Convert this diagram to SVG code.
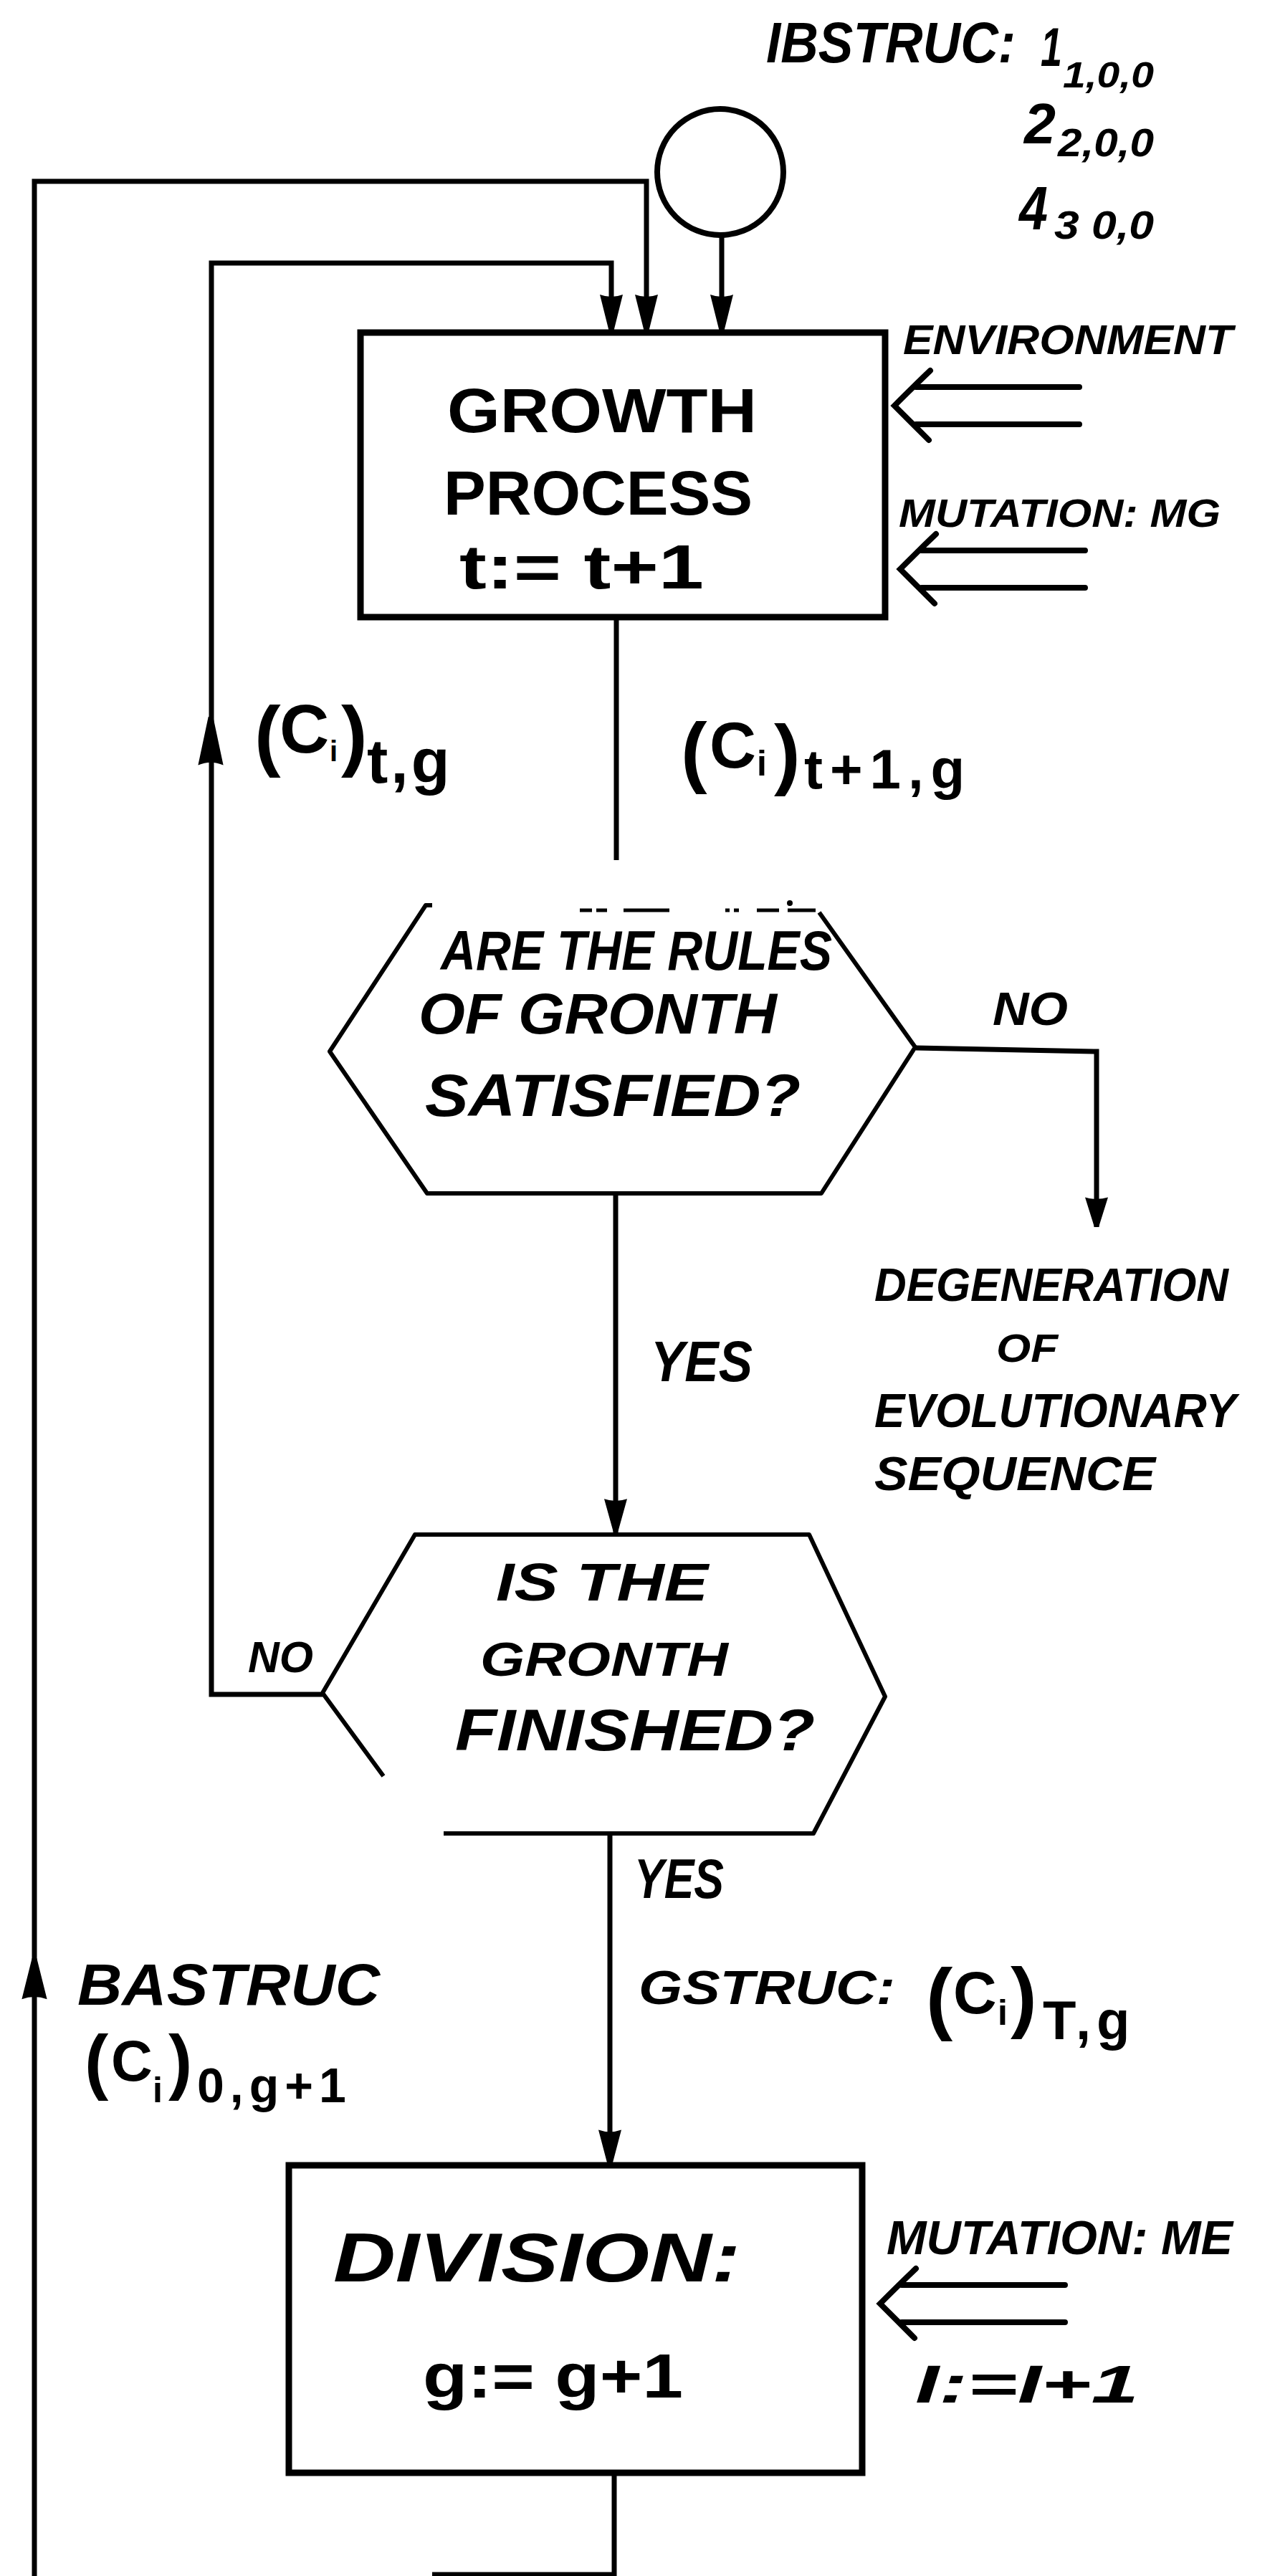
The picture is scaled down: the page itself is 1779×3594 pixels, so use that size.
<svg xmlns="http://www.w3.org/2000/svg" width="1779" height="3594" viewBox="0 0 1779 3594">
<style>
.ln{fill:none;stroke:#000;stroke-width:7;stroke-linejoin:miter}
.bx{fill:none;stroke:#000;stroke-width:9}
.hx{fill:none;stroke:#000;stroke-width:6;stroke-linejoin:round}
.t{font-family:'Liberation Sans',Arial,sans-serif;font-weight:bold;fill:#000}
.i{font-style:italic}
</style>
<defs>
<path id="ah" d="M-16,-52 Q0,-46 16,-52 L3,0 L-3,0 Z" fill="#000"/>
<g id="dbl" fill="none" stroke="#000" stroke-width="8" stroke-linecap="round">
<path d="M30,-26 H258 M30,26 H258"/>
<path d="M50,-49 C30,-30 12,-12 0,0 C12,12 30,30 48,48"/>
</g>
</defs>
<rect width="1779" height="3594" fill="#fff"/>

<g id="connectors">
<path class="ln" d="M48,3594 V253 H902 V463"/>
<path class="ln" d="M450,2364 H295 V367 H853 V463"/>
<path class="ln" d="M1007,330 V463"/>
<path class="ln" d="M860,861 V1200"/>
<path class="ln" d="M859,1665 V2138"/>
<path class="ln" d="M1278,1462 L1530,1467 V1712"/>
<path class="ln" d="M851,2558 V3021"/>
<path class="ln" d="M857,3450 V3592 H603"/>
<use href="#ah" transform="translate(853,463)"/>
<use href="#ah" transform="translate(902,463)"/>
<use href="#ah" transform="translate(1007,463)"/>
<use href="#ah" transform="translate(294,1000) rotate(180) scale(1.1,1.3)"/>
<use href="#ah" transform="translate(48,2732) rotate(180) scale(1.1,1.1)"/>
<use href="#ah" transform="translate(1530,1712) scale(1,0.8)"/>
<use href="#ah" transform="translate(859,2138) scale(1,0.9)"/>
<use href="#ah" transform="translate(851,3021) scale(1,0.95)"/>
<use href="#dbl" x="1248" y="566"/>
<use href="#dbl" x="1256" y="794"/>
<use href="#dbl" x="1228" y="3214"/>
</g>

<g id="ibstruc">
<text class="t i" x="1069" y="87" font-size="80" textLength="348" lengthAdjust="spacingAndGlyphs">IBSTRUC:</text>
<text class="t i" x="1452" y="92" font-size="76" textLength="30" lengthAdjust="spacingAndGlyphs">1</text>
<text class="t i" x="1483" y="122" font-size="50" textLength="127" lengthAdjust="spacingAndGlyphs">1,0,0</text>
<text class="t i" x="1429" y="200" font-size="80" textLength="44" lengthAdjust="spacingAndGlyphs">2</text>
<text class="t i" x="1476" y="218" font-size="55" textLength="134" lengthAdjust="spacingAndGlyphs">2,0,0</text>
<text class="t i" x="1422" y="320" font-size="86" textLength="40" lengthAdjust="spacingAndGlyphs">4</text>
<text class="t i" x="1471" y="333" font-size="55" textLength="139" lengthAdjust="spacingAndGlyphs">3 0,0</text>
</g>

<g id="start">
<ellipse cx="1005" cy="240" rx="88" ry="88" fill="none" stroke="#000" stroke-width="8"/>
</g>

<g id="growth">
<rect class="bx" x="503" y="464" width="732" height="397"/>
<text class="t" x="624" y="603" font-size="88" textLength="432" lengthAdjust="spacingAndGlyphs">GROWTH</text>
<text class="t" x="619" y="718" font-size="88" textLength="431" lengthAdjust="spacingAndGlyphs">PROCESS</text>
<text class="t" x="641" y="821" font-size="88" textLength="341" lengthAdjust="spacingAndGlyphs">t:= t+1</text>
</g>

<g id="inputs-growth">
<text class="t i" x="1260" y="494" font-size="57" textLength="460" lengthAdjust="spacingAndGlyphs">ENVIRONMENT</text>
<text class="t i" x="1254" y="735" font-size="56" textLength="449" lengthAdjust="spacingAndGlyphs">MUTATION: MG</text>
</g>

<g id="label-ctg">
<text class="t" font-size="96"><tspan x="355" y="1062" font-size="110">(</tspan><tspan x="390" y="1050">C</tspan><tspan x="460" y="1062" font-size="40">i</tspan><tspan x="476" y="1062" font-size="110">)</tspan><tspan x="512" y="1092" font-size="88" letter-spacing="4">t,g</tspan></text>
</g>

<g id="label-ct1g">
<text class="t" font-size="90"><tspan x="950" y="1085" font-size="110">(</tspan><tspan x="990" y="1071">C</tspan><tspan x="1056" y="1082" font-size="50">i</tspan><tspan x="1080" y="1088" font-size="110">)</tspan><tspan x="1122" y="1100" font-size="78" letter-spacing="10">t+1,g</tspan></text>
</g>

<g id="rules">
<path class="hx" d="M603,1263 H594 L460,1467 L596,1665 H1146 L1277,1461 L1143,1273"/>
<path fill="none" stroke="#000" stroke-width="5" d="M809,1270 H826 M832,1270 H847 M870,1270 H934 M1012,1270 H1018 M1024,1270 H1031 M1056,1270 H1087 M1099,1270 H1138"/>
<circle cx="1102" cy="1260" r="4" fill="#000"/>
<text class="t i" x="615" y="1353" font-size="78" textLength="546" lengthAdjust="spacingAndGlyphs">ARE THE RULES</text>
<text class="t i" x="584" y="1442" font-size="80" textLength="500" lengthAdjust="spacingAndGlyphs">OF GRONTH</text>
<text class="t i" x="593" y="1557" font-size="84" textLength="524" lengthAdjust="spacingAndGlyphs">SATISFIED?</text>
<text class="t i" x="1385" y="1430" font-size="65" textLength="105" lengthAdjust="spacingAndGlyphs">NO</text>
<text class="t i" x="908" y="1927" font-size="80" textLength="142" lengthAdjust="spacingAndGlyphs">YES</text>
</g>

<g id="degeneration">
<text class="t i" x="1220" y="1815" font-size="64" textLength="494" lengthAdjust="spacingAndGlyphs">DEGENERATION</text>
<text class="t i" x="1390" y="1900" font-size="56" textLength="86" lengthAdjust="spacingAndGlyphs">OF</text>
<text class="t i" x="1220" y="1991" font-size="66" textLength="505" lengthAdjust="spacingAndGlyphs">EVOLUTIONARY</text>
<text class="t i" x="1220" y="2079" font-size="66" textLength="392" lengthAdjust="spacingAndGlyphs">SEQUENCE</text>
</g>

<g id="finished">
<path class="hx" d="M450,2362 L579,2141 H1129 L1235,2367 L1135,2558 H619 M450,2362 L535,2478"/>
<text class="t i" x="692" y="2233" font-size="75" textLength="296" lengthAdjust="spacingAndGlyphs">IS THE</text>
<text class="t i" x="670" y="2338" font-size="66" textLength="346" lengthAdjust="spacingAndGlyphs">GRONTH</text>
<text class="t i" x="635" y="2442" font-size="82" textLength="502" lengthAdjust="spacingAndGlyphs">FINISHED?</text>
<text class="t i" x="346" y="2333" font-size="62" textLength="91" lengthAdjust="spacingAndGlyphs">NO</text>
<text class="t i" x="885" y="2648" font-size="78" textLength="125" lengthAdjust="spacingAndGlyphs">YES</text>
</g>

<g id="label-bastruc">
<text class="t i" x="108" y="2797" font-size="82" textLength="422" lengthAdjust="spacingAndGlyphs">BASTRUC</text>
<text class="t" font-size="80"><tspan x="118" y="2910" font-size="100">(</tspan><tspan x="155" y="2903">C</tspan><tspan x="213" y="2933" font-size="50">i</tspan><tspan x="235" y="2910" font-size="100">)</tspan><tspan x="275" y="2933" font-size="68" letter-spacing="8">0,g+1</tspan></text>
</g>

<g id="label-gstruc">
<text class="t i" x="891" y="2796" font-size="66" textLength="358" lengthAdjust="spacingAndGlyphs">GSTRUC:</text>
<text class="t" font-size="84"><tspan x="1292" y="2825" font-size="112">(</tspan><tspan x="1330" y="2809">C</tspan><tspan x="1392" y="2825" font-size="50">i</tspan><tspan x="1410" y="2822" font-size="110">)</tspan><tspan x="1455" y="2845" font-size="76" letter-spacing="8">T,g</tspan></text>
</g>

<g id="division">
<rect class="bx" x="403" y="3021" width="800" height="429"/>
<text class="t i" x="465" y="3183" font-size="96" textLength="568" lengthAdjust="spacingAndGlyphs">DIVISION:</text>
<text class="t" x="590" y="3345" font-size="88" textLength="363" lengthAdjust="spacingAndGlyphs">g:= g+1</text>
</g>

<g id="inputs-division">
<text class="t i" x="1237" y="3145" font-size="66" textLength="483" lengthAdjust="spacingAndGlyphs">MUTATION: ME</text>
<text class="t i" x="1277" y="3352" font-size="75" textLength="312" lengthAdjust="spacingAndGlyphs">I:=I+1</text>
</g>
</svg>
